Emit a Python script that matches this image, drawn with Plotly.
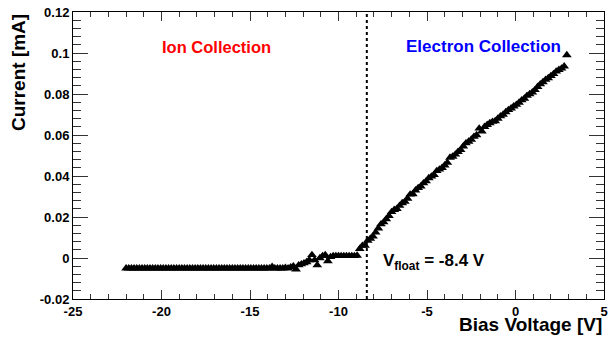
import plotly.graph_objects as go

# ---- data ----
bias_voltage = [
    -22.00, -21.85, -21.70, -21.55, -21.40, -21.25, -21.10, -20.95, -20.80, -20.65,
    -20.50, -20.35, -20.20, -20.05, -19.90, -19.75, -19.60, -19.45, -19.30, -19.15,
    -19.00, -18.85, -18.70, -18.55, -18.40, -18.25, -18.10, -17.95, -17.80, -17.65,
    -17.50, -17.35, -17.20, -17.05, -16.90, -16.75, -16.60, -16.45, -16.30, -16.15,
    -16.00, -15.85, -15.70, -15.55, -15.40, -15.25, -15.10, -14.95, -14.80, -14.65,
    -14.50, -14.35, -14.20, -14.05, -13.90, -13.75, -13.60, -13.45, -13.30, -13.15,
    -13.00, -12.85, -12.70, -12.55, -12.40, -12.25, -12.10, -11.95, -11.80, -11.65,
    -11.50, -11.35, -11.20, -11.05, -10.90, -10.75, -10.60, -10.45, -10.30, -10.15,
    -10.00, -9.85, -9.70, -9.55, -9.40, -9.25, -9.10, -8.95, -8.80, -8.65,
    -8.50, -8.35, -8.20, -8.05, -7.90, -7.75, -7.60, -7.45, -7.30, -7.15,
    -7.00, -6.85, -6.70, -6.55, -6.40, -6.25, -6.10, -5.95, -5.80, -5.65,
    -5.50, -5.35, -5.20, -5.05, -4.90, -4.75, -4.60, -4.45, -4.30, -4.15,
    -4.00, -3.85, -3.70, -3.55, -3.40, -3.25, -3.10, -2.95, -2.80, -2.65,
    -2.50, -2.35, -2.20, -2.05, -1.90, -1.75, -1.60, -1.45, -1.30, -1.15,
    -1.00, -0.85, -0.70, -0.55, -0.40, -0.25, -0.10, 0.05, 0.20, 0.35,
    0.50, 0.65, 0.80, 0.95, 1.10, 1.25, 1.40, 1.55, 1.70, 1.85,
    2.00, 2.15, 2.30, 2.45, 2.60, 2.75, 2.90,
]
current_mA = [
    -0.0050, -0.0050, -0.0050, -0.0050, -0.0050, -0.0050, -0.0050, -0.0050, -0.0050, -0.0050,
    -0.0050, -0.0050, -0.0050, -0.0050, -0.0050, -0.0050, -0.0050, -0.0050, -0.0050, -0.0050,
    -0.0050, -0.0050, -0.0050, -0.0050, -0.0050, -0.0050, -0.0050, -0.0050, -0.0050, -0.0050,
    -0.0050, -0.0050, -0.0050, -0.0050, -0.0050, -0.0050, -0.0050, -0.0050, -0.0050, -0.0050,
    -0.0050, -0.0050, -0.0050, -0.0050, -0.0050, -0.0050, -0.0050, -0.0050, -0.0050, -0.0050,
    -0.0050, -0.0050, -0.0050, -0.0050, -0.0050, -0.0043, -0.0050, -0.0050, -0.0050, -0.0050,
    -0.0048, -0.0050, -0.0045, -0.0040, -0.0055, -0.0035, -0.0030, -0.0025, -0.0020, -0.0010,
    0.0015, -0.0010, -0.0035, 0.0000, 0.0010, 0.0015, -0.0015, 0.0005, 0.0010, 0.0010,
    0.0010, 0.0010, 0.0010, 0.0010, 0.0010, 0.0010, 0.0010, 0.0012, 0.0045, 0.0060,
    0.0060, 0.0085, 0.0095, 0.0105, 0.0125, 0.0145, 0.0165, 0.0175, 0.0190, 0.0205,
    0.0225, 0.0235, 0.0240, 0.0255, 0.0268, 0.0275, 0.0290, 0.0310, 0.0312, 0.0330,
    0.0342, 0.0350, 0.0365, 0.0375, 0.0390, 0.0398, 0.0405, 0.0425, 0.0432, 0.0440,
    0.0452, 0.0465, 0.0490, 0.0495, 0.0505, 0.0518, 0.0528, 0.0545, 0.0560, 0.0568,
    0.0578, 0.0592, 0.0600, 0.0632, 0.0618, 0.0640, 0.0650, 0.0658, 0.0665, 0.0668,
    0.0680, 0.0692, 0.0700, 0.0712, 0.0722, 0.0730, 0.0740, 0.0748, 0.0758, 0.0770,
    0.0778, 0.0792, 0.0800, 0.0808, 0.0820, 0.0835, 0.0848, 0.0858, 0.0870, 0.0878,
    0.0888, 0.0898, 0.0910, 0.0918, 0.0925, 0.0935, 0.0990,
]
assert len(bias_voltage) == len(current_mA)

v_float = -8.4

x_tickvals = [-25, -20, -15, -10, -5, 0, 5]
x_ticktext = ["-25", "-20", "-15", "-10", "-5", "0", "5"]
y_tickvals = [-0.02, 0, 0.02, 0.04, 0.06, 0.08, 0.1, 0.12]
y_ticktext = ["-0.02", "0", "0.02", "0.04", "0.06", "0.08", "0.1", "0.12"]

FONT = "Liberation Sans, Arial, Helvetica, sans-serif"
TICK_COLOR = "#333333"

fig = go.Figure()
fig.add_trace(go.Scatter(
    x=bias_voltage, y=current_mA, mode="markers",
    marker=dict(symbol="triangle-up", size=8.5, color="black", line=dict(width=0)),
    showlegend=False, hoverinfo="x+y",
))

# vertical dashed line at V_float
fig.add_shape(type="line", xref="x", yref="paper", x0=v_float, x1=v_float, y0=0, y1=1,
              line=dict(color="black", width=2, dash="3px,3px"))

tickfont = dict(family=FONT, size=13, color="black", weight="bold")

fig.update_xaxes(range=[-25, 5], ticks="inside", ticklen=9, tickcolor=TICK_COLOR, tickwidth=1,
                 tickvals=x_tickvals, ticktext=x_ticktext,
                 showline=True, linecolor="#000000", linewidth=1, mirror="allticks",
                 showgrid=False, zeroline=False, tickfont=tickfont,
                 minor=dict(dtick=1, tick0=0, ticklen=5, ticks="inside", tickcolor=TICK_COLOR,
                            tickwidth=1, showgrid=False))
fig.update_yaxes(range=[-0.02, 0.12], ticks="inside", ticklen=15, tickcolor=TICK_COLOR, tickwidth=1,
                 tickvals=y_tickvals, ticktext=y_ticktext,
                 showline=True, linecolor="#000000", linewidth=1, mirror="allticks",
                 showgrid=False, zeroline=False, tickfont=tickfont,
                 minor=dict(dtick=0.004, tick0=0, ticklen=8, ticks="inside", tickcolor=TICK_COLOR,
                            tickwidth=1, showgrid=False))

# axis titles ROOT style (aligned to the axis end)
fig.add_annotation(text="Current [mA]", xref="paper", yref="paper", x=0, y=1,
                   xanchor="right", yanchor="top", xshift=-42, textangle=-90, showarrow=False,
                   font=dict(family=FONT, size=19, color="black", weight="bold"))
fig.add_annotation(text="Bias Voltage [V]", xref="paper", yref="paper", x=1, y=0,
                   xanchor="right", yanchor="bottom", yshift=-38, showarrow=False,
                   font=dict(family=FONT, size=19, color="black", weight="bold"))

fig.add_annotation(text="Ion Collection", x=-16.9, y=0.103, showarrow=False,
                   font=dict(family=FONT, size=16.5, color="#ff0000", weight="bold"))
fig.add_annotation(text="Electron Collection", x=-1.8, y=0.103, showarrow=False,
                   font=dict(family=FONT, size=17, color="#0000ff", weight="bold"))
fig.add_annotation(text="V<sub>float</sub> = -8.4 V", x=-7.6, y=-0.002, xanchor="left",
                   showarrow=False,
                   font=dict(family=FONT, size=17, color="black", weight="bold"))

fig.update_layout(
    width=612, height=337,
    margin=dict(l=73, r=4, t=12, b=38),
    paper_bgcolor="white", plot_bgcolor="white",
)

fig.write_html("out.html")
